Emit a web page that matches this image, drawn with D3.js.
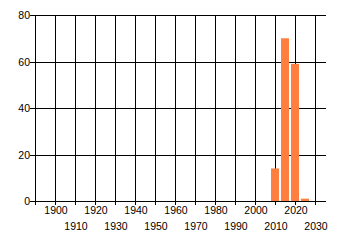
<!DOCTYPE html>
<html lang="en">
<head>
  <meta charset="UTF-8">
  <title>Chart</title>
  <style>
    body { margin: 0; background: #fff; }
    text { font-family: "Liberation Sans", Arial, sans-serif; font-size: 10.5px; fill: #000; }
  </style>
</head>
<body>
  <div id="chart"></div>
  <script src="https://d3js.org/d3.v7.min.js"></script>
  <script>
    // bins (centre year) and counts
    var years = [2010, 2015, 2020, 2025];
    var counts = [14, 70, 59, 1];
    var xTicks = [1890, 1900, 1910, 1920, 1930, 1940, 1950, 1960, 1970, 1980, 1990, 2000, 2010, 2020, 2030];
    var yTicks = [0, 20, 40, 60, 80];

    var W = 340, H = 245;
    var mLeft = 35, mTop = 15, mRight = 326, mBottom = 201;

    var svg = d3.select("#chart").append("svg")
        .attr("width", W).attr("height", H);

    var x = d3.scaleLinear().domain([1890, 2035.5]).range([mLeft, mRight]);
    var y = d3.scaleLinear().domain([0, 80]).range([mBottom, mTop]);

    var grid = svg.append("g").attr("shape-rendering", "crispEdges");

    // horizontal gridlines + left ticks
    grid.selectAll("line.h")
        .data(yTicks)
        .enter().append("line")
        .attr("x1", mLeft - 5).attr("x2", mRight)
        .attr("y1", d => Math.round(y(d)) + 0.5).attr("y2", d => Math.round(y(d)) + 0.5)
        .attr("stroke", "#000");

    // vertical gridlines + bottom ticks
    grid.selectAll("line.v")
        .data(xTicks)
        .enter().append("line")
        .attr("x1", d => Math.round(x(d)) + 0.5).attr("x2", d => Math.round(x(d)) + 0.5)
        .attr("y1", mTop).attr("y2", mBottom + 4)
        .attr("stroke", "#000");

    // bars, 5 year bins
    var bw = x(1895) - x(1890);
    svg.append("g").selectAll("rect")
        .data(years)
        .enter().append("rect")
        .attr("x", (d, i) => x(d) - bw / 2 + 1)
        .attr("width", bw - 2)
        .attr("y", (d, i) => y(counts[i]))
        .attr("height", (d, i) => y(0) - y(counts[i]))
        .attr("fill", "#ff7f40");

    // y labels
    svg.append("g").selectAll("text")
        .data(yTicks)
        .enter().append("text")
        .attr("x", mLeft - 5)
        .attr("y", d => y(d) + 4)
        .attr("text-anchor", "end")
        .text(d => d);

    // x labels, staggered in two rows
    svg.append("g").selectAll("text")
        .data(xTicks.filter(d => d >= 1900))
        .enter().append("text")
        .attr("x", d => x(d) + 1)
        .attr("y", d => (d / 10) % 2 === 0 ? 214 : 230)
        .attr("text-anchor", "middle")
        .text(d => d);
  </script>
</body>
</html>
